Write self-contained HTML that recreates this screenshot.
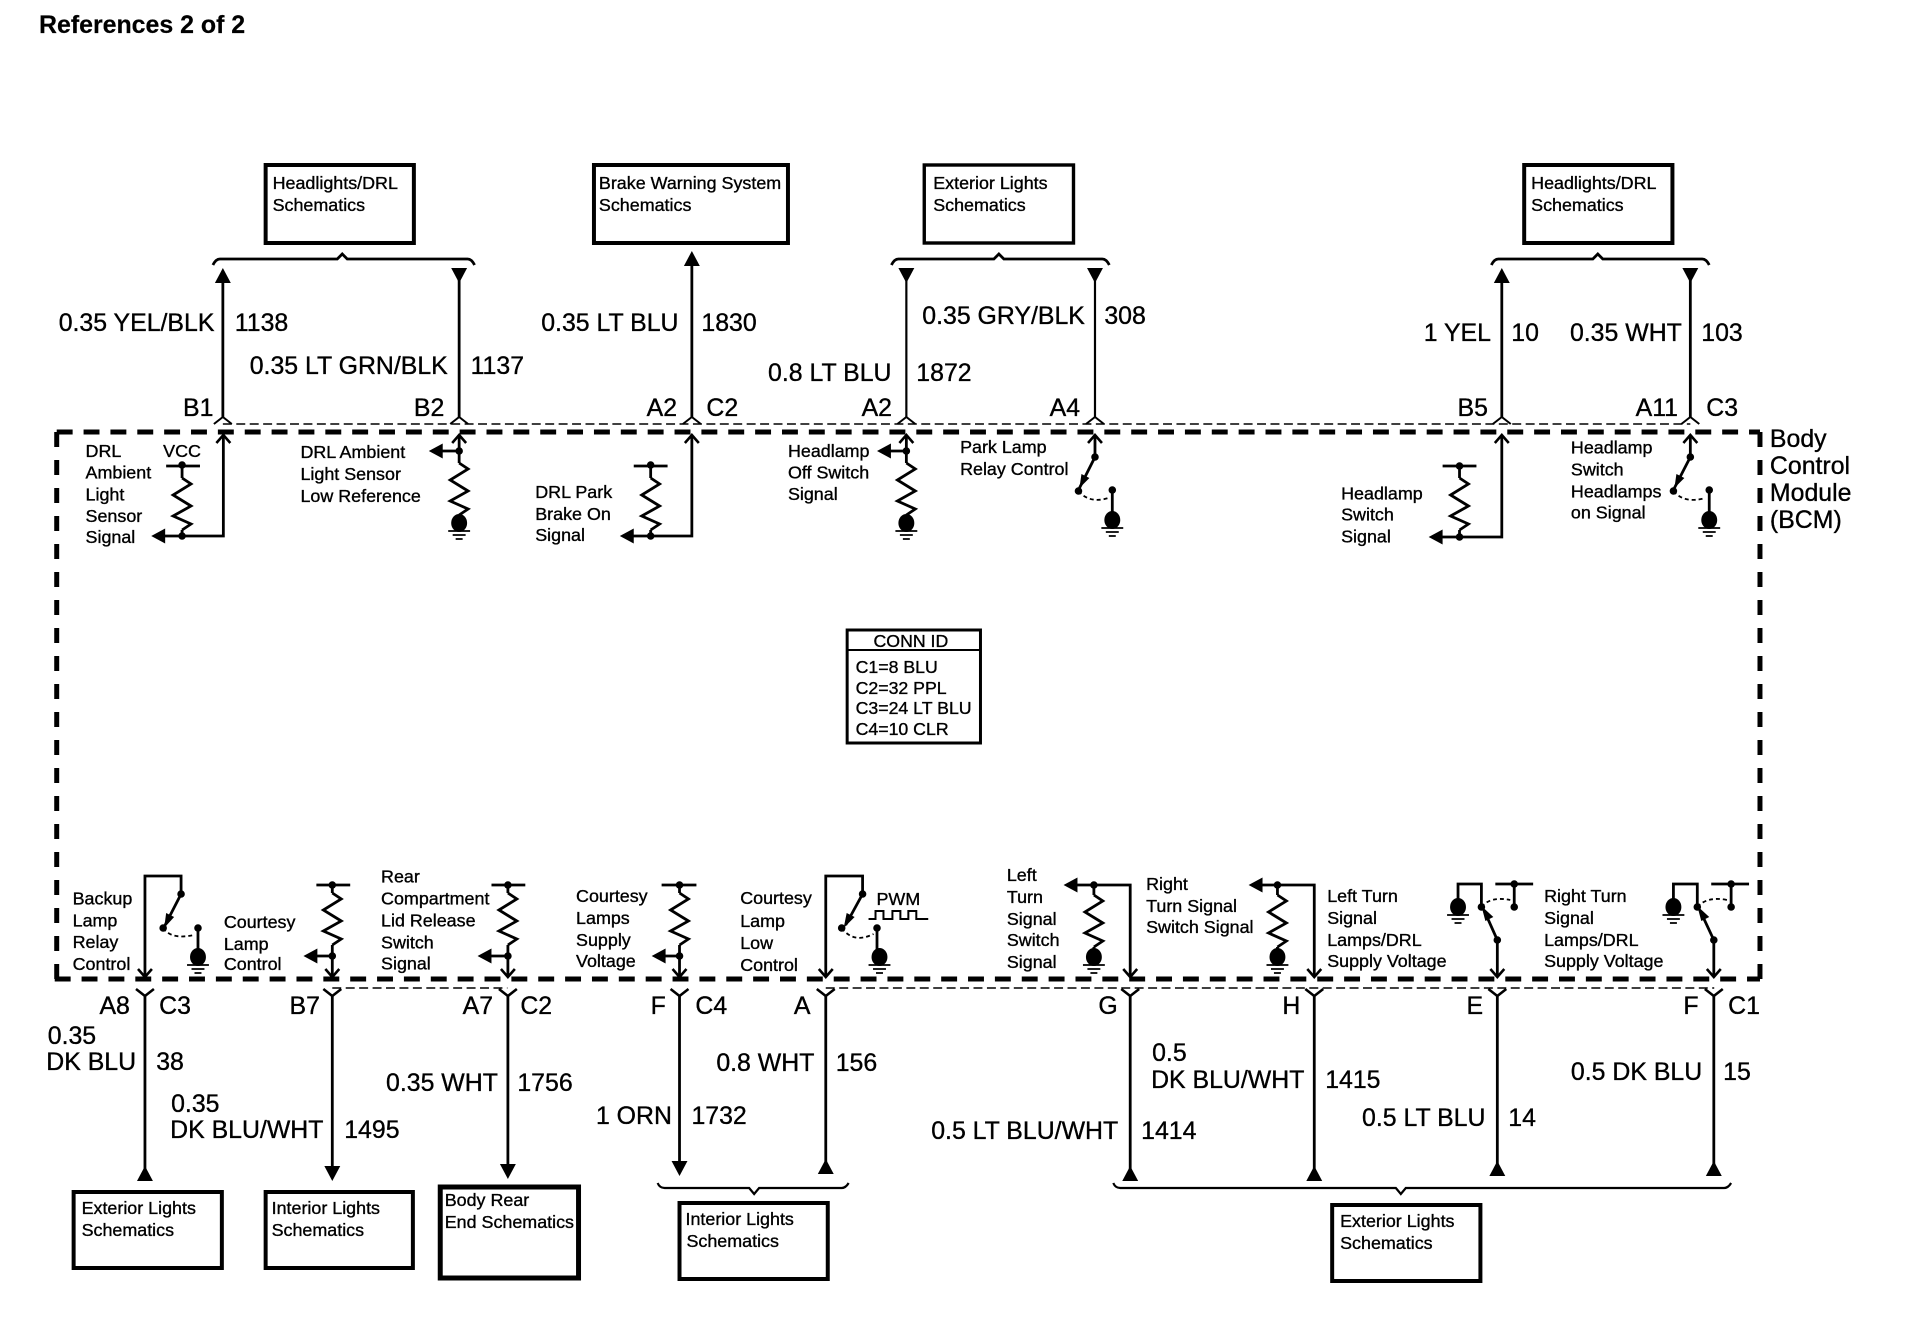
<!DOCTYPE html>
<html><head><meta charset="utf-8">
<style>
html,body{margin:0;padding:0;background:#fff;width:1910px;height:1344px;overflow:hidden}
svg{display:block}
text{font-family:"Liberation Sans",Arial,sans-serif;fill:#000;stroke:#000;stroke-width:.35}
.s{font-size:18px}.w{font-size:25px}.c{font-size:17.8px}
.l{fill:none;stroke:#000;stroke-width:2.8}
.t{fill:none;stroke:#000;stroke-width:1.4;stroke-dasharray:9 4.5}
.b{fill:#fff;stroke:#000;stroke-width:4}
.f{fill:#000;stroke:none}
</style></head><body>
<svg width="1910" height="1344" viewBox="0 0 1910 1344" xmlns="http://www.w3.org/2000/svg">
<defs>
<path id="zig" d="M0,0 L9,6 L-9,17 L9,28 L-9,38 L9,46 L0,52" fill="none" stroke="#000" stroke-width="2.8"/>
<g id="gnd"><ellipse cx="0" cy="0" rx="8" ry="9" fill="#000"/><path d="M-11,8H11M-6.5,12H6.5M-3.5,16H3.5" stroke="#000" stroke-width="1.8" fill="none"/></g>
<path id="oup" d="M-7,8L0,0L7,8" fill="none" stroke="#000" stroke-width="2.6"/>
<path id="odn" d="M-7,-8L0,0L7,-8" fill="none" stroke="#000" stroke-width="2.6"/>
<path id="ctop" d="M-9,7L0,0L9,7" fill="none" stroke="#000" stroke-width="2"/>
<path id="cbot" d="M-9,-7L0,0L9,-7" fill="none" stroke="#000" stroke-width="2.6"/>
<polygon id="tu" points="0,0 8,15 -8,15"/>
<polygon id="td" points="-8,0 8,0 0,15"/>
<polygon id="tl" points="0,0 14,-7.5 14,7.5"/>
<circle id="d" r="3.8"/>
</defs>
<text x="39" y="33" font-size="24.9" font-weight="bold" style="stroke-width:.2">References 2 of 2</text>
<g transform="scale(.9949,1)">
<!-- module border -->
<path d="M57,979V432" fill="none" stroke="#000" stroke-width="5" stroke-dasharray="15 13"/>
<path d="M57,432H1769" fill="none" stroke="#000" stroke-width="5" stroke-dasharray="16 11"/>
<path d="M1769,432V979" fill="none" stroke="#000" stroke-width="5" stroke-dasharray="15 13"/>
<path d="M55,979H1769" fill="none" stroke="#000" stroke-width="5" stroke-dasharray="16 11"/>
<!-- thin connector dashes -->
<path class="t" d="M224,424H1699"/>
<path class="t" d="M334,988H510"/>
<path class="t" d="M830,988H1723"/>
<!-- top boxes -->
<rect class="b" x="267" y="165" width="149" height="78"/>
<rect class="b" x="597" y="165" width="195" height="78"/>
<rect class="b" x="929" y="165" width="150" height="78" style="stroke-width:3.4"/>
<rect class="b" x="1532" y="165" width="149" height="78"/>
<text class="s" x="274" y="189">Headlights/DRL</text><text class="s" x="274" y="211">Schematics</text>
<text class="s" x="602" y="189">Brake Warning System</text><text class="s" x="602" y="211">Schematics</text>
<text class="s" x="938" y="189">Exterior Lights</text><text class="s" x="938" y="211">Schematics</text>
<text class="s" x="1539" y="189">Headlights/DRL</text><text class="s" x="1539" y="211">Schematics</text>
<!-- top braces -->
<path class="l" d="M214,265Q217,259 221,259H339L344,254L349,259H470Q474,259 477,265"/>
<path class="l" d="M896,265Q899,259 903,259H999L1004,254L1009,259H1108Q1112,259 1115,265"/>
<path class="l" d="M1499,265Q1502,259 1506,259H1601L1606,254L1611,259H1711Q1715,259 1718,265"/>
<!-- top wires -->
<path class="l" d="M224,280V417M461.5,280V417M695.4,262V417M1509.5,280V417M1699,280V417"/>
<path class="l" style="stroke-width:2.2" d="M911,280V417M1100.6,280V417"/>
<use href="#tu" x="224" y="268"/><use href="#td" x="461.5" y="268"/><use href="#tu" x="695.4" y="251"/>
<use href="#td" x="911" y="268"/><use href="#td" x="1100.6" y="268"/><use href="#tu" x="1509.5" y="268"/><use href="#td" x="1699" y="268"/>
<use href="#ctop" x="224" y="417"/><use href="#ctop" x="461.5" y="417"/><use href="#ctop" x="695.4" y="417"/><use href="#ctop" x="911" y="417"/><use href="#ctop" x="1100.6" y="417"/><use href="#ctop" x="1509.5" y="417"/><use href="#ctop" x="1699" y="417"/>
<!-- top labels -->
<text class="w" x="59" y="331">0.35 YEL/BLK</text><text class="w" x="236" y="331">1138</text>
<text class="w" x="251" y="374">0.35 LT GRN/BLK</text><text class="w" x="473" y="374">1137</text>
<text class="w" x="544" y="331">0.35 LT BLU</text><text class="w" x="705" y="331">1830</text>
<text class="w" x="772" y="381">0.8 LT BLU</text><text class="w" x="921" y="381">1872</text>
<text class="w" x="927" y="324">0.35 GRY/BLK</text><text class="w" x="1110" y="324">308</text>
<text class="w" x="1431" y="341">1 YEL</text><text class="w" x="1519" y="341">10</text>
<text class="w" x="1578" y="341">0.35 WHT</text><text class="w" x="1710" y="341">103</text>
<text class="w" x="184" y="416">B1</text><text class="w" x="416" y="416">B2</text><text class="w" x="650" y="416">A2</text><text class="w" x="710" y="416">C2</text><text class="w" x="866" y="416">A2</text><text class="w" x="1055" y="416">A4</text><text class="w" x="1465" y="416">B5</text><text class="w" x="1644" y="416">A11</text><text class="w" x="1715" y="416">C3</text>
<!-- BCM label -->
<text class="w" x="1779" y="447">Body</text><text class="w" x="1779" y="474">Control</text><text class="w" x="1779" y="501">Module</text><text class="w" x="1779" y="528">(BCM)</text>
<!-- top comp 1 -->
<use href="#oup" x="224.5" y="435"/>
<path class="l" d="M224.5,435V536H165M167,466H201M183,466V478M183,530V536"/>
<use href="#zig" x="183" y="478"/><use href="#d" x="183" y="465"/><use href="#d" x="183" y="536"/><use href="#tl" x="152" y="536"/>
<text class="s" x="86" y="457">DRL</text><text class="s" x="86" y="478.5">Ambient</text><text class="s" x="86" y="500.5">Light</text><text class="s" x="86" y="522">Sensor</text><text class="s" x="86" y="543">Signal</text>
<text class="s" x="164" y="457">VCC</text>
<!-- top comp 2 -->
<use href="#oup" x="461.5" y="435"/>
<path class="l" d="M461.5,435V463M461.5,515V522M443,451H461.5"/>
<use href="#zig" x="461.5" y="463"/><use href="#d" x="461.5" y="451"/><use href="#tl" x="431" y="451"/><use href="#gnd" x="461.5" y="523"/>
<text class="s" x="302" y="458">DRL Ambient</text><text class="s" x="302" y="480">Light Sensor</text><text class="s" x="302" y="502">Low Reference</text>
<!-- top comp 3 -->
<use href="#oup" x="695.4" y="435"/>
<path class="l" d="M695.4,435V536H635M637,466H671M654,466V478M654,530V536"/>
<use href="#zig" x="654" y="478"/><use href="#d" x="654" y="465"/><use href="#d" x="654" y="536"/><use href="#tl" x="623" y="536"/>
<text class="s" x="538" y="498">DRL Park</text><text class="s" x="538" y="520">Brake On</text><text class="s" x="538" y="541">Signal</text>
<!-- top comp 4 -->
<use href="#oup" x="911" y="435"/>
<path class="l" d="M911,435V463M911,515V522M893,451H911"/>
<use href="#zig" x="911" y="463"/><use href="#d" x="911" y="451"/><use href="#tl" x="881.5" y="451"/><use href="#gnd" x="911" y="523"/>
<text class="s" x="792" y="457">Headlamp</text><text class="s" x="792" y="478.5">Off Switch</text><text class="s" x="792" y="500">Signal</text>
<!-- top comp 5 -->
<use href="#oup" x="1100.6" y="435"/>
<path class="l" d="M1100.6,435V457L1085,488M1118,491V520"/>
<polygon class="f" points="1085,488 1087,474 1095,478"/>
<use href="#d" x="1100.6" y="457"/><use href="#d" x="1084" y="491"/><use href="#d" x="1118" y="490"/>
<path d="M1084,491Q1095,504 1114,498" fill="none" stroke="#000" stroke-width="1.8" stroke-dasharray="4 3"/>
<use href="#gnd" x="1118" y="520"/>
<text class="s" x="965" y="453">Park Lamp</text><text class="s" x="965" y="475">Relay Control</text>
<!-- top comp 6 -->
<use href="#oup" x="1509.5" y="435"/>
<path class="l" d="M1509.5,435V537H1448M1450,466H1484M1467,466V478M1467,530V537"/>
<use href="#zig" x="1467" y="478"/><use href="#d" x="1467" y="466"/><use href="#d" x="1467" y="537"/><use href="#tl" x="1436" y="537"/>
<text class="s" x="1348" y="499.5">Headlamp</text><text class="s" x="1348" y="520.5">Switch</text><text class="s" x="1348" y="542.5">Signal</text>
<!-- top comp 7 -->
<use href="#oup" x="1699" y="435"/>
<path class="l" d="M1699,435V457L1683,488M1718,491V520"/>
<polygon class="f" points="1683,488 1685,474 1693,478"/>
<use href="#d" x="1699" y="457"/><use href="#d" x="1682" y="491"/><use href="#d" x="1718" y="490"/>
<path d="M1682,491Q1693,504 1714,498" fill="none" stroke="#000" stroke-width="1.8" stroke-dasharray="4 3"/>
<use href="#gnd" x="1718" y="520"/>
<text class="s" x="1579" y="453.5">Headlamp</text><text class="s" x="1579" y="475.5">Switch</text><text class="s" x="1579" y="497.5">Headlamps</text><text class="s" x="1579" y="518.5">on Signal</text>
<!-- CONN ID -->
<rect x="851.5" y="630" width="134" height="113" fill="#fff" stroke="#000" stroke-width="3"/>
<path d="M851,650H986" stroke="#000" stroke-width="2"/>
<text class="c" x="878" y="647">CONN ID</text>
<text class="c" x="860" y="673">C1=8 BLU</text><text class="c" x="860" y="694">C2=32 PPL</text><text class="c" x="860" y="714">C3=24 LT BLU</text><text class="c" x="860" y="735">C4=10 CLR</text>
<!-- bottom wires -->
<path class="l" d="M145.7,995V1170M334,995V1170M510.5,995V1170M683,995V1165M830,995V1165M1136,995V1170M1321,995V1170M1505,995V1168M1722.6,995V1168"/>
<use href="#cbot" x="145.7" y="996"/><use href="#cbot" x="334" y="996"/><use href="#cbot" x="510.5" y="996"/><use href="#cbot" x="683" y="996"/><use href="#cbot" x="830" y="996"/><use href="#cbot" x="1136" y="996"/><use href="#cbot" x="1321" y="996"/><use href="#cbot" x="1505" y="996"/><use href="#cbot" x="1722.6" y="996"/>
<use href="#tu" x="145.7" y="1166"/><use href="#td" x="334" y="1166"/><use href="#td" x="510.5" y="1164"/><use href="#td" x="683" y="1161"/><use href="#tu" x="830" y="1159"/><use href="#tu" x="1136" y="1166"/><use href="#tu" x="1321" y="1166"/><use href="#tu" x="1505" y="1161"/><use href="#tu" x="1722.6" y="1161"/>
<!-- bottom braces -->
<path class="l" style="stroke-width:2.2" d="M661,1183Q663,1188 668,1188H753L758,1194L763,1188H846Q850,1188 853,1183"/>
<path class="l" style="stroke-width:2.2" d="M1119,1183Q1121,1188 1126,1188H1403L1408,1194L1413,1188H1733Q1737,1188 1740,1183"/>
<!-- bottom boxes -->
<rect class="b" x="74" y="1192" width="149" height="76"/>
<rect class="b" x="267" y="1192" width="148" height="76"/>
<rect class="b" x="442.5" y="1187" width="139" height="91" style="stroke-width:5"/>
<rect class="b" x="683" y="1203" width="149" height="76"/>
<rect class="b" x="1339" y="1205" width="149" height="76"/>
<text class="s" x="82" y="1214">Exterior Lights</text><text class="s" x="82" y="1236">Schematics</text>
<text class="s" x="273" y="1214">Interior Lights</text><text class="s" x="273" y="1236">Schematics</text>
<text class="s" x="447" y="1206">Body Rear</text><text class="s" x="447" y="1228">End Schematics</text>
<text class="s" x="689" y="1225">Interior Lights</text><text class="s" x="690" y="1247">Schematics</text>
<text class="s" x="1347" y="1227">Exterior Lights</text><text class="s" x="1347" y="1249">Schematics</text>
<!-- bottom labels -->
<text class="w" x="100" y="1014">A8</text><text class="w" x="160" y="1014">C3</text>
<text class="w" x="48" y="1044">0.35</text><text class="w" x="46.5" y="1070">DK BLU</text><text class="w" x="157" y="1070">38</text>
<text class="w" x="172" y="1112">0.35</text><text class="w" x="171" y="1138">DK BLU/WHT</text><text class="w" x="346" y="1138">1495</text>
<text class="w" x="291" y="1014">B7</text><text class="w" x="465" y="1014">A7</text><text class="w" x="523" y="1014">C2</text>
<text class="w" x="388" y="1091">0.35 WHT</text><text class="w" x="520" y="1091">1756</text>
<text class="w" x="599" y="1124">1 ORN</text><text class="w" x="695" y="1124">1732</text>
<text class="w" x="654" y="1014">F</text><text class="w" x="699" y="1014">C4</text><text class="w" x="798" y="1014">A</text>
<text class="w" x="720" y="1071">0.8 WHT</text><text class="w" x="840" y="1071">156</text>
<text class="w" x="1104" y="1014">G</text><text class="w" x="1289" y="1014">H</text><text class="w" x="1474" y="1014">E</text><text class="w" x="1692" y="1014">F</text><text class="w" x="1737" y="1014">C1</text>
<text class="w" x="1158" y="1061">0.5</text><text class="w" x="1157" y="1088">DK BLU/WHT</text><text class="w" x="1332" y="1088">1415</text>
<text class="w" x="936" y="1139">0.5 LT BLU/WHT</text><text class="w" x="1147" y="1139">1414</text>
<text class="w" x="1369" y="1126">0.5 LT BLU</text><text class="w" x="1516" y="1126">14</text>
<text class="w" x="1579" y="1080">0.5 DK BLU</text><text class="w" x="1732" y="1080">15</text>
<!-- bottom comp 1 switch -->
<path class="l" d="M145.7,977V876H182V894L166,925M199,928V957"/>
<use href="#odn" x="145.7" y="977"/>
<polygon class="f" points="165,928 167,913 175,917"/>
<use href="#d" x="182" y="894"/><use href="#d" x="164" y="928"/><use href="#d" x="199" y="928"/>
<path d="M164,928Q172,940 195,935" fill="none" stroke="#000" stroke-width="1.8" stroke-dasharray="4 3"/>
<use href="#gnd" x="199" y="957"/>
<text class="s" x="73" y="904.5">Backup</text><text class="s" x="73" y="926.5">Lamp</text><text class="s" x="73" y="948">Relay</text><text class="s" x="73" y="970">Control</text>
<!-- bottom resistors -->
<path class="l" d="M318,885H352M334,885V893M334,945V977M318,956H334"/>
<use href="#zig" x="334" y="893"/><use href="#d" x="334" y="885"/><use href="#d" x="334" y="956"/><use href="#tl" x="305" y="956"/><use href="#odn" x="334" y="977"/>
<text class="s" x="225" y="928">Courtesy</text><text class="s" x="225" y="950">Lamp</text><text class="s" x="225" y="970">Control</text>
<path class="l" d="M494,885H528M510.5,885V893M510.5,945V977M492,956H510.5"/>
<use href="#zig" x="510.5" y="893"/><use href="#d" x="510.5" y="885"/><use href="#d" x="510.5" y="956"/><use href="#tl" x="480" y="956"/><use href="#odn" x="510.5" y="977"/>
<text class="s" x="383" y="882.5">Rear</text><text class="s" x="383" y="904.5">Compartment</text><text class="s" x="383" y="926.5">Lid Release</text><text class="s" x="383" y="948.5">Switch</text><text class="s" x="383" y="969.5">Signal</text>
<path class="l" d="M665,885H700M683,885V893M683,945V977M667,956H683"/>
<use href="#zig" x="683" y="893"/><use href="#d" x="683" y="885"/><use href="#d" x="683" y="956"/><use href="#tl" x="655" y="956"/><use href="#odn" x="683" y="977"/>
<text class="s" x="579" y="902">Courtesy</text><text class="s" x="579" y="924">Lamps</text><text class="s" x="579" y="946">Supply</text><text class="s" x="579" y="967">Voltage</text>
<!-- PWM switch -->
<path class="l" d="M830,977V876H867V894L850,925M881.5,928V957"/>
<use href="#odn" x="830" y="977"/>
<polygon class="f" points="848,928 851,913 859,917"/>
<use href="#d" x="867" y="894"/><use href="#d" x="846" y="928"/><use href="#d" x="881.5" y="928"/>
<path d="M846,928Q858,944 878,934" fill="none" stroke="#000" stroke-width="1.8" stroke-dasharray="4 3"/>
<use href="#gnd" x="884" y="957"/>
<text class="s" x="881" y="905" style="font-size:18px">PWM</text>
<path d="M873,919H880V911H888V919H897V911H905V919H913V911H921V919H933" fill="none" stroke="#000" stroke-width="2"/>
<text class="s" x="744" y="904">Courtesy</text><text class="s" x="744" y="927">Lamp</text><text class="s" x="744" y="949">Low</text><text class="s" x="744" y="971">Control</text>
<!-- left turn signal -->
<path class="l" d="M1136,977V885H1081M1099.5,885V895M1099.5,947V957"/>
<use href="#odn" x="1136" y="977"/><use href="#tl" x="1069" y="885"/><use href="#d" x="1099.5" y="885"/>
<use href="#zig" x="1099.5" y="895"/><use href="#gnd" x="1099.5" y="957"/>
<text class="s" x="1012" y="881">Left</text><text class="s" x="1012" y="903">Turn</text><text class="s" x="1012" y="925">Signal</text><text class="s" x="1012" y="946">Switch</text><text class="s" x="1012" y="968">Signal</text>
<!-- right turn signal -->
<path class="l" d="M1321,977V885H1267M1284,885V895M1284,947V957"/>
<use href="#odn" x="1321" y="977"/><use href="#tl" x="1255" y="885"/><use href="#d" x="1284" y="885"/>
<use href="#zig" x="1284" y="895"/><use href="#gnd" x="1284" y="957"/>
<text class="s" x="1152" y="890">Right</text><text class="s" x="1152" y="912">Turn Signal</text><text class="s" x="1152" y="933">Switch Signal</text>
<!-- left lamps supply -->
<path class="l" d="M1505,977V940L1492,911M1489,907V884H1465.5V900M1503,884H1541M1522,884V907"/>
<use href="#odn" x="1505" y="977"/>
<polygon class="f" points="1489,906 1501,917 1493,921"/>
<use href="#d" x="1505" y="940"/><use href="#d" x="1489" y="907"/><use href="#d" x="1522" y="907"/><use href="#d" x="1522" y="884"/>
<path d="M1489,907Q1498,896 1518,900" fill="none" stroke="#000" stroke-width="1.8" stroke-dasharray="4 3"/>
<use href="#gnd" x="1465.5" y="907"/>
<text class="s" x="1334" y="902">Left Turn</text><text class="s" x="1334" y="924">Signal</text><text class="s" x="1334" y="946">Lamps/DRL</text><text class="s" x="1334" y="967">Supply Voltage</text>
<!-- right lamps supply -->
<path class="l" d="M1722.6,977V940L1709,911M1706,907V884H1682V900M1720,884H1758M1740,884V907"/>
<use href="#odn" x="1722.6" y="977"/>
<polygon class="f" points="1706,906 1718,917 1710,921"/>
<use href="#d" x="1722.6" y="940"/><use href="#d" x="1706" y="907"/><use href="#d" x="1740" y="907"/><use href="#d" x="1740" y="884"/>
<path d="M1706,907Q1716,896 1736,900" fill="none" stroke="#000" stroke-width="1.8" stroke-dasharray="4 3"/>
<use href="#gnd" x="1682" y="907"/>
<text class="s" x="1552" y="902">Right Turn</text><text class="s" x="1552" y="924">Signal</text><text class="s" x="1552" y="946">Lamps/DRL</text><text class="s" x="1552" y="967">Supply Voltage</text>
</g>
</svg>
</body></html>
